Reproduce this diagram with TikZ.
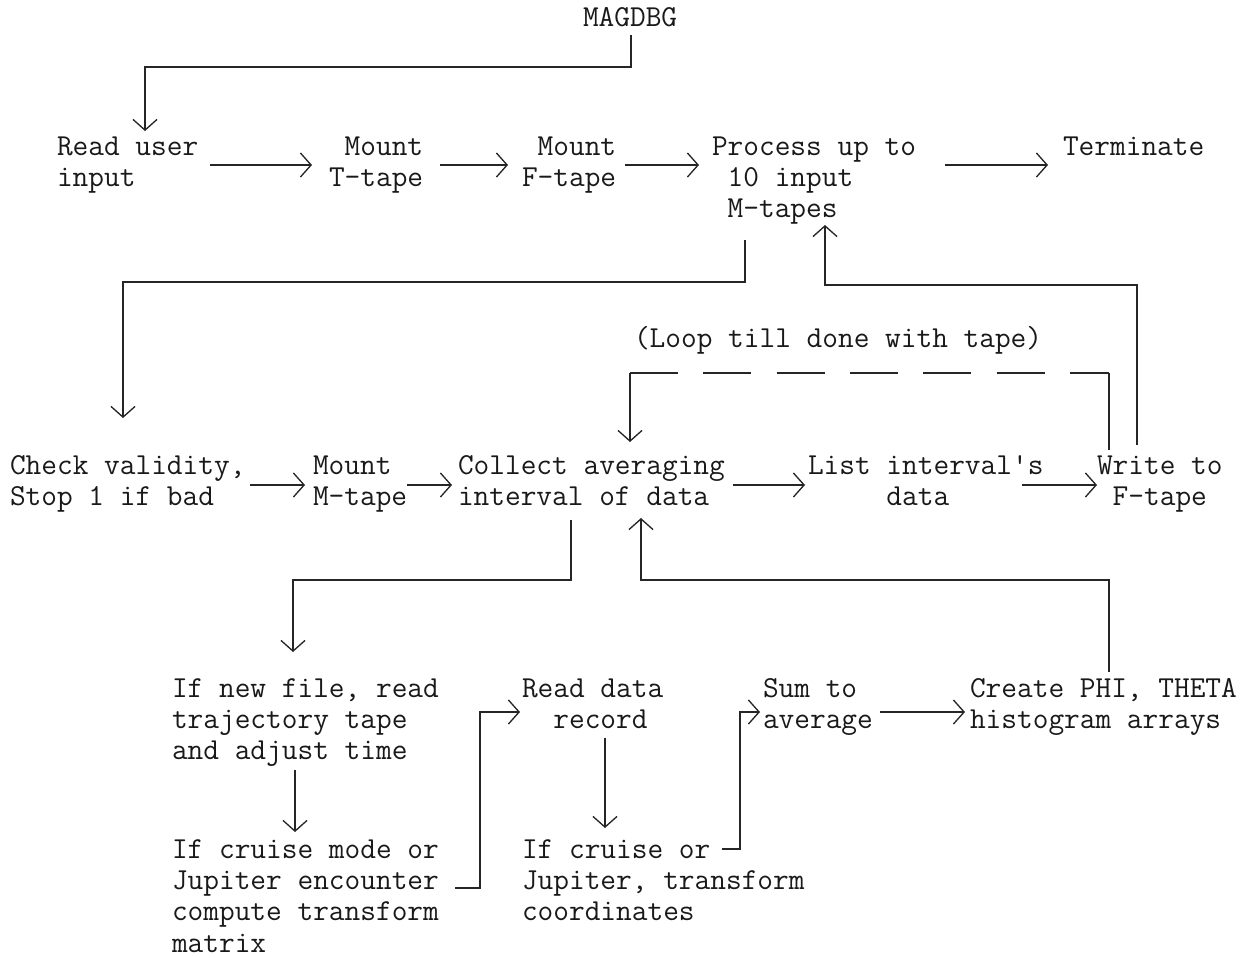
\documentclass[tikz,border=0pt]{standalone}
\usepackage{fontspec}
\usetikzlibrary{arrows.meta,calc}
\newcommand\tline[1]{\hbox{#1}}
\tikzset{
  txt/.style={anchor=base west,inner sep=0pt,outer sep=0pt,
    font=\ttfamily\fontsize{22.86}{23.6}\selectfont\addfontfeatures{FakeBold=2.6},text=black!90},
  conn/.style={draw=black!85,line width=1pt},
  arr/.style={conn,-{Straight Barb[length=8pt,width=18pt,line width=1pt]}},
  loopdash/.style={conn,dash pattern=on 36pt off 19pt},
}
\begin{document}
\begin{tikzpicture}[x=0.75pt,y=-0.75pt]
\useasboundingbox (0,0) rectangle (1252,957);
% nodes (anchored at the baseline of their first line)
\node[txt] (magdbg) at (583,26) {MAGDBG};
\node[txt] (readuser) at (57,155) {\vtop{\tline{Read user}\tline{input}}};
\node[txt] (mountT) at (329,155) {\vtop{\tline{~Mount}\tline{T-tape}}};
\node[txt] (mountF) at (522,155) {\vtop{\tline{~Mount}\tline{F-tape}}};
\node[txt] (process) at (712,155) {\vtop{\tline{Process up to}\tline{~10 input}\tline{~M-tapes}}};
\node[txt] (terminate) at (1063,155) {Terminate};
\node[txt] (loop) at (634,347) {(Loop till done with tape)};
\node[txt] (check) at (10,474) {\vtop{\tline{Check validity,}\tline{Stop 1 if bad}}};
\node[txt] (mountM) at (313,474) {\vtop{\tline{Mount}\tline{M-tape}}};
\node[txt] (collect) at (458,474) {\vtop{\tline{Collect averaging}\tline{interval of data}}};
\node[txt] (list) at (808,474) {\vtop{\tline{List interval's}\tline{~~~~~data}}};
\node[txt] (write) at (1097,474) {\vtop{\tline{Write to}\tline{~F-tape}}};
\node[txt] (newfile) at (172,697) {\vtop{\tline{If new file, read}\tline{trajectory tape}\tline{and adjust time}}};
\node[txt] (readdata) at (522,697) {\vtop{\tline{Read data}\tline{~~record}}};
\node[txt] (sum) at (763,697) {\vtop{\tline{Sum to}\tline{average}}};
\node[txt] (create) at (970,697) {\vtop{\tline{Create PHI, THETA}\tline{histogram arrays}}};
\node[txt] (cruisemode) at (172,858) {\vtop{\tline{If cruise mode or}\tline{Jupiter encounter}\tline{compute transform}\tline{matrix}}};
\node[txt] (cruise) at (522,858) {\vtop{\tline{If cruise or}\tline{Jupiter, transform}\tline{coordinates}}};
% connectors
\draw[arr] ($(magdbg.base west)+(48,9)$) -- ($(magdbg.base west)+(48,41)$) -| ($(readuser.base west)+(88,-24)$);
\draw[arr] ($(readuser.base west)+(153,10)$) -- ($(mountT.base west)+(-17,10)$);
\draw[arr] ($(mountT.base west)+(111,10)$) -- ($(mountF.base west)+(-14,10)$);
\draw[arr] ($(mountF.base west)+(103,10)$) -- ($(process.base west)+(-13,10)$);
\draw[arr] ($(process.base west)+(233,10)$) -- ($(terminate.base west)+(-15,10)$);
\draw[arr] ($(process.base west)+(33,85)$) -- ($(process.base west)+(33,127)$) -| ($(check.base west)+(113,-56)$);
\draw[arr] ($(write.base west)+(40,-29)$) -- ($(write.base west)+(40,-189)$) -| ($(process.base west)+(113,70)$);
% dashed loop
\coordinate (loopR) at ($(write.base west)+(12,-101)$);
\coordinate (loopL) at ($(collect.base west)+(172,-101)$);
\draw[conn] ($(write.base west)+(12,-24)$) -- (loopR);
\draw[loopdash] (loopL) -- (loopR);
\draw[arr] (loopL) -- ($(collect.base west)+(172,-32)$);
\draw[arr] ($(check.base west)+(240,11)$) -- ($(mountM.base west)+(-8,11)$);
\draw[arr] ($(mountM.base west)+(94,11)$) -- ($(collect.base west)+(-6,11)$);
\draw[arr] ($(collect.base west)+(275,11)$) -- ($(list.base west)+(-3,11)$);
\draw[arr] ($(list.base west)+(214,11)$) -- ($(write.base west)+(0,11)$);
\draw[arr] ($(collect.base west)+(113,46)$) -- ($(collect.base west)+(113,106)$) -| ($(newfile.base west)+(121,-45)$);
\draw[arr] ($(create.base west)+(139,-25)$) -- ($(create.base west)+(139,-117)$) -| ($(collect.base west)+(183,44)$);
\draw[arr] ($(newfile.base west)+(123,73)$) -- ($(cruisemode.base west)+(123,-26)$);
\draw[arr] ($(cruisemode.base west)+(283,30)$) -- ($(cruisemode.base west)+(308,30)$) |- ($(readdata.base west)+(-2,15)$);
\draw[arr] ($(readdata.base west)+(83,41)$) -- ($(cruise.base west)+(83,-30)$);
\draw[arr] ($(cruise.base west)+(200,-9)$) -- ($(cruise.base west)+(218,-9)$) |- ($(sum.base west)+(-3,15)$);
\draw[arr] ($(sum.base west)+(117,15)$) -- ($(create.base west)+(-5,15)$);
\end{tikzpicture}
\end{document}
